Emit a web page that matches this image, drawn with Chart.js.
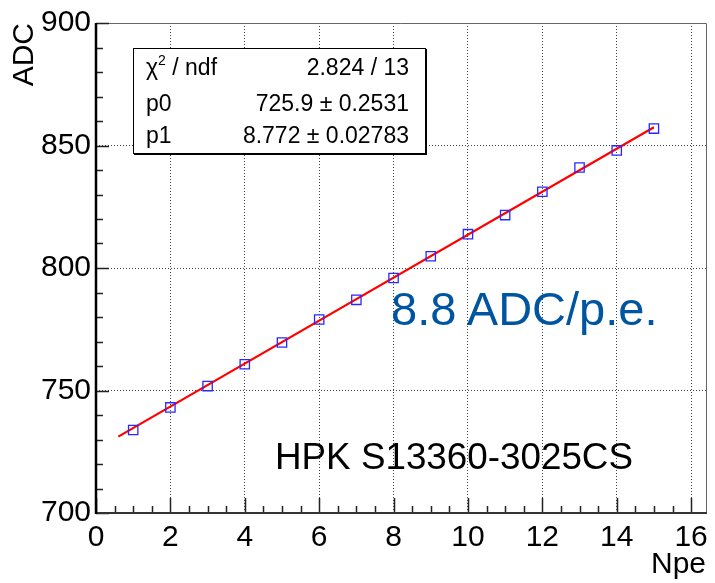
<!DOCTYPE html>
<html lang="en">
<head>
<meta charset="UTF-8">
<title>ADC vs Npe</title>
<script src="https://cdn.jsdelivr.net/npm/chart.js"></script>
<style>
  body { margin: 0; background: #fff; font-family: "Liberation Sans", Arial, sans-serif; }
  .wrap { position: relative; width: 715px; height: 583px; }
  canvas { position: absolute; left: 0; top: 0; }
  .stats {
    position: absolute; left: 133px; top: 48px; width: 291px; height: 104px;
    border: 1px solid #000; box-shadow: 1px 1px 0 #000; background: #fff;
  }
  .stats .row { position: absolute; font-size: 23px; line-height: 23px; white-space: nowrap; color: #000; }
  .stats .lab { left: 12px; }
  .stats .val { right: 16px; }
  .stats sup { font-size: 14px; line-height: 0; vertical-align: 10px; }
  .note { position: absolute; white-space: nowrap; line-height: 1; }
  .slope { left: 391px; top: 285px; font-size: 47px; color: #0055a0; }
  .sensor { left: 275px; top: 439px; font-size: 36.8px; color: #000; }
</style>
</head>
<body>
<div class="wrap">
  <canvas id="chart" width="715" height="583"></canvas>

  <div class="stats">
    <div class="row lab" style="top: 7px;">&chi;<sup>2</sup> / ndf</div>
    <div class="row val" style="top: 7px;">2.824 / 13</div>
    <div class="row lab" style="top: 43px;">p0</div>
    <div class="row val" style="top: 43px;">725.9 &plusmn; 0.2531</div>
    <div class="row lab" style="top: 75px;">p1</div>
    <div class="row val" style="top: 75px;">8.772 &plusmn; 0.02783</div>
  </div>

  <div class="note slope">8.8 ADC/p.e.</div>
  <div class="note sensor">HPK S13360-3025CS</div>
</div>

<script>
  // measured points
  const npe = [1, 2, 3, 4, 5, 6, 7, 8, 9, 10, 11, 12, 13, 14, 15];
  const adc = [733.9, 743.1, 751.8, 760.7, 769.6, 779.0, 787.0, 795.9, 804.8, 813.8, 821.6, 831.1, 841.0, 848.0, 856.9];

  // linear fit  y = p0 + p1 * x
  const p0 = 725.9;
  const p1 = 8.772;
  const fitRange = [0.6, 15];

  const xRange = [0, 16.4];
  const yRange = [700, 900];

  const fitPoints = fitRange.map(x => ({ x: x, y: p0 + p1 * x }));
  const dataPoints = npe.map((x, i) => ({ x: x, y: adc[i] }));

  const labelFont = { family: '"Liberation Sans", Arial, sans-serif', size: 30 };

  // frame + inward tick marks, ROOT style
  const frameAxes = {
    id: 'frameAxes',
    afterDraw(chart) {
      const { ctx, chartArea: a, scales: { x, y } } = chart;
      ctx.save();

      ctx.strokeStyle = '#666';
      ctx.lineWidth = 1;
      ctx.beginPath();
      ctx.moveTo(a.left, a.top + 0.5);
      ctx.lineTo(a.right + 0.5, a.top + 0.5);
      ctx.lineTo(a.right + 0.5, a.bottom);
      ctx.stroke();

      ctx.strokeStyle = '#222';
      ctx.lineWidth = 1.5;
      ctx.beginPath();
      for (let v = xRange[0]; v <= xRange[1] + 1e-9; v += 0.5) {
        const px = Math.round(x.getPixelForValue(v)) + 0.5;
        const len = (Math.round(v * 2) % 4 === 0) ? 15 : 7;
        ctx.moveTo(px, a.bottom);
        ctx.lineTo(px, a.bottom - len);
      }
      for (let v = yRange[0]; v <= yRange[1] + 1e-9; v += 10) {
        const py = Math.round(y.getPixelForValue(v)) + 0.5;
        const len = (Math.round(v) % 50 === 0) ? 13 : 7;
        ctx.moveTo(a.left, py);
        ctx.lineTo(a.left + len, py);
      }
      ctx.stroke();

      ctx.strokeStyle = '#333';
      ctx.lineWidth = 2;
      ctx.beginPath();
      ctx.moveTo(a.left, a.bottom);
      ctx.lineTo(a.right + 1, a.bottom);
      ctx.stroke();

      ctx.strokeStyle = '#000';
      ctx.lineWidth = 2.5;
      ctx.beginPath();
      ctx.moveTo(a.left, a.top);
      ctx.lineTo(a.left, a.bottom + 1);
      ctx.stroke();

      ctx.restore();
    }
  };

  new Chart(document.getElementById('chart'), {
    type: 'scatter',
    data: {
      datasets: [
        {
          label: 'fit',
          data: fitPoints,
          showLine: true,
          borderColor: '#ff0000',
          borderWidth: 2.2,
          pointRadius: 0,
          order: 2
        },
        {
          label: 'data',
          data: dataPoints,
          pointStyle: 'rect',
          pointRadius: 6.6,
          borderColor: 'rgb(40,40,255)',
          borderWidth: 1.3,
          backgroundColor: 'rgba(0,0,0,0)',
          order: 1
        }
      ]
    },
    options: {
      responsive: false,
      animation: false,
      layout: { padding: { top: 21, right: 5, left: 0, bottom: 0 } },
      plugins: { legend: { display: false }, tooltip: { enabled: false } },
      scales: {
        x: {
          type: 'linear',
          min: xRange[0],
          max: xRange[1],
          afterFit: s => { s.height = 70; },
          ticks: {
            stepSize: 2,
            includeBounds: false,
            autoSkip: false,
            maxRotation: 0,
            padding: 7,
            color: '#000',
            font: labelFont
          },
          grid: { color: '#444', lineWidth: 1, drawTicks: false },
          border: { display: false, dash: [1, 2] },
          title: { display: true, text: 'Npe', align: 'end', color: '#000', font: labelFont, padding: { top: 1, bottom: 0 } }
        },
        y: {
          type: 'linear',
          min: yRange[0],
          max: yRange[1],
          afterFit: s => { s.width = 96; },
          ticks: {
            stepSize: 50,
            autoSkip: false,
            padding: 5,
            color: '#000',
            font: labelFont
          },
          grid: { color: '#444', lineWidth: 1, drawTicks: false },
          border: { display: false, dash: [1, 2] },
          title: { display: true, text: 'ADC', align: 'end', color: '#000', font: labelFont, padding: { top: 7, bottom: 0 } }
        }
      }
    },
    plugins: [frameAxes]
  });
</script>
</body>
</html>
